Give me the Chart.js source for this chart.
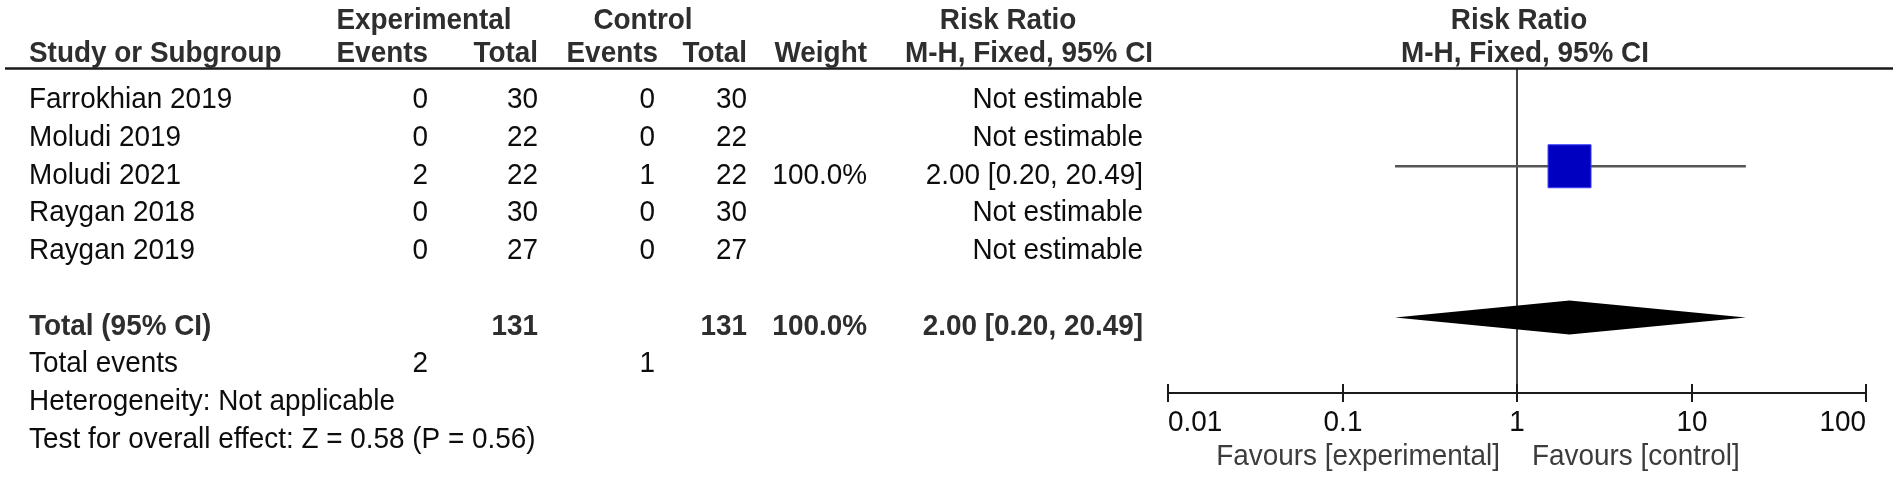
<!DOCTYPE html>
<html>
<head>
<meta charset="utf-8">
<title>Risk Ratio forest plot</title>
<script src="https://cdn.jsdelivr.net/npm/chart.js@4.4.1/dist/chart.umd.min.js"></script>
<style>
  html, body { margin: 0; padding: 0; background: #fff; }
  #wrap { width: 1900px; height: 482px; }
</style>
</head>
<body>
<div id="wrap"><canvas id="forest" width="1900" height="482"></canvas></div>
<script>
// ---- data ----
const studyNames = ['Farrokhian 2019', 'Moludi 2019', 'Moludi 2021', 'Raygan 2018', 'Raygan 2019'];
const expEvents  = [0, 0, 2, 0, 0];
const expTotals  = [30, 22, 22, 30, 27];
const ctrlEvents = [0, 0, 1, 0, 0];
const ctrlTotals = [30, 22, 22, 30, 27];
const weights    = [null, null, 100.0, null, null];
const riskRatios = [null, null, 2.00, null, null];
const ciLower    = [null, null, 0.20, null, null];
const ciUpper    = [null, null, 20.49, null, null];

const totalCounts  = [131, 131];      // experimental, control
const totalEvents  = [2, 1];          // experimental, control
const totalWeight  = [100.0];
const pooledRR     = [2.00];
const pooledCI     = [0.20, 20.49];
const overallZ     = [0.58];
const overallP     = [0.56];

const axisTicks  = [0.01, 0.1, 1, 10, 100];
const tickLabels = ['0.01', '0.1', '1', '10', '100'];
const favourLabels = ['Favours [experimental]', 'Favours [control]'];

// ---- layout ----
const Y_MIN = 0.4, Y_MAX = 9.0;       // row units, header line -> axis line
const TOTAL_ROW = 7;
const TEXT_DY = 9;                    // text sits slightly under the marks
const FONT = '"Liberation Sans", Arial, Helvetica, sans-serif';
const FS = 30, SX = 0.93;
const COL = { name: 29, expEv: 428, expTot: 538, ctlEv: 655, ctlTot: 747, weight: 867, rr: 1143 };

const f2 = v => v.toFixed(2);
const fw = v => v.toFixed(1) + '%';

function txt(ctx, s, x, y, align, bold, color) {
  ctx.save();
  ctx.font = (bold ? 'bold ' : '') + FS + 'px ' + FONT;
  ctx.fillStyle = color || '#0d0d0d';
  ctx.textAlign = align;
  ctx.textBaseline = 'middle';
  ctx.translate(x, y);
  ctx.scale(SX, 1);
  ctx.fillText(s, 0, 0);
  ctx.restore();
}

function seg(ctx, x1, y1, x2, y2) {
  ctx.beginPath(); ctx.moveTo(x1, y1); ctx.lineTo(x2, y2); ctx.stroke();
}

const forestTable = {
  id: 'forestTable',
  afterDatasetsDraw(chart) {
    const { ctx, chartArea, scales: { x, y } } = chart;
    const H = '#2e2e2e';

    // pooled diamond
    const dy = y.getPixelForValue(TOTAL_ROW);
    ctx.save();
    ctx.fillStyle = '#000';
    ctx.beginPath();
    ctx.moveTo(x.getPixelForValue(pooledCI[0]), dy);
    ctx.lineTo(x.getPixelForValue(pooledRR[0]), dy - 17);
    ctx.lineTo(x.getPixelForValue(pooledCI[1]), dy);
    ctx.lineTo(x.getPixelForValue(pooledRR[0]), dy + 17);
    ctx.closePath();
    ctx.fill();
    ctx.restore();

    // header underline
    ctx.save();
    ctx.strokeStyle = '#1a1a1a';
    ctx.lineWidth = 2.5;
    seg(ctx, 5, chartArea.top + 0.5, 1893, chartArea.top + 0.5);
    ctx.restore();

    // headers
    const h1 = chartArea.top - 47, h2 = chartArea.top - 14.5;
    txt(ctx, 'Experimental', 424, h1, 'center', true, H);
    txt(ctx, 'Control', 643, h1, 'center', true, H);
    txt(ctx, 'Risk Ratio', 1008, h1, 'center', true, H);
    txt(ctx, 'Risk Ratio', 1519, h1, 'center', true, H);
    txt(ctx, 'Study or Subgroup', COL.name, h2, 'left', true, H);
    txt(ctx, 'Events', COL.expEv, h2, 'right', true, H);
    txt(ctx, 'Total', COL.expTot, h2, 'right', true, H);
    txt(ctx, 'Events', COL.ctlEv + 3, h2, 'right', true, H);
    txt(ctx, 'Total', COL.ctlTot, h2, 'right', true, H);
    txt(ctx, 'Weight', COL.weight, h2, 'right', true, H);
    txt(ctx, 'M-H, Fixed, 95% CI', 905, h2, 'left', true, H);
    txt(ctx, 'M-H, Fixed, 95% CI', 1525, h2, 'center', true, H);

    // study rows
    studyNames.forEach((name, i) => {
      const py = y.getPixelForValue(i + 1) + TEXT_DY;
      txt(ctx, name, COL.name, py, 'left');
      txt(ctx, String(expEvents[i]), COL.expEv, py, 'right');
      txt(ctx, String(expTotals[i]), COL.expTot, py, 'right');
      txt(ctx, String(ctrlEvents[i]), COL.ctlEv, py, 'right');
      txt(ctx, String(ctrlTotals[i]), COL.ctlTot, py, 'right');
      if (weights[i] != null) txt(ctx, fw(weights[i]), COL.weight, py, 'right');
      const est = riskRatios[i] == null ? 'Not estimable'
        : f2(riskRatios[i]) + ' [' + f2(ciLower[i]) + ', ' + f2(ciUpper[i]) + ']';
      txt(ctx, est, COL.rr, py, 'right');
    });

    // total row
    const ty = y.getPixelForValue(TOTAL_ROW) + TEXT_DY;
    txt(ctx, 'Total (95% CI)', COL.name, ty, 'left', true, H);
    txt(ctx, String(totalCounts[0]), COL.expTot, ty, 'right', true, H);
    txt(ctx, String(totalCounts[1]), COL.ctlTot, ty, 'right', true, H);
    txt(ctx, fw(totalWeight[0]), COL.weight, ty, 'right', true, H);
    txt(ctx, f2(pooledRR[0]) + ' [' + f2(pooledCI[0]) + ', ' + f2(pooledCI[1]) + ']', COL.rr, ty, 'right', true, H);

    const ey = y.getPixelForValue(TOTAL_ROW + 1) + TEXT_DY;
    txt(ctx, 'Total events', COL.name, ey, 'left');
    txt(ctx, String(totalEvents[0]), COL.expEv, ey, 'right');
    txt(ctx, String(totalEvents[1]), COL.ctlEv, ey, 'right');
    txt(ctx, 'Heterogeneity: Not applicable', COL.name, y.getPixelForValue(TOTAL_ROW + 2) + TEXT_DY, 'left');
    txt(ctx, 'Test for overall effect: Z = ' + f2(overallZ[0]) + ' (P = ' + f2(overallP[0]) + ')',
        COL.name, y.getPixelForValue(TOTAL_ROW + 3) + TEXT_DY, 'left');

    // x axis
    const ay = chartArea.bottom;
    ctx.save();
    ctx.strokeStyle = '#1a1a1a';
    ctx.lineWidth = 2;
    seg(ctx, x.getPixelForValue(axisTicks[0]), ay, x.getPixelForValue(axisTicks[axisTicks.length - 1]), ay);
    axisTicks.forEach((t, i) => {
      const px = Math.round(x.getPixelForValue(t));
      seg(ctx, px, ay - 9, px, ay + 9);
      const align = i === 0 ? 'left' : i === axisTicks.length - 1 ? 'right' : 'center';
      txt(ctx, tickLabels[i], px, ay + 30, align);
    });
    ctx.restore();
    const one = x.getPixelForValue(1);
    txt(ctx, favourLabels[0], one - 17, ay + 63.5, 'right', false, '#3c3c3c');
    txt(ctx, favourLabels[1], one + 15, ay + 63.5, 'left', false, '#3c3c3c');
  }
};

// ---- datasets ----
const squares = [], ciLines = [];
riskRatios.forEach((rr, i) => {
  if (rr == null) return;
  squares.push({ x: rr, y: i + 1 });
  ciLines.push({
    type: 'line',
    data: [{ x: ciLower[i], y: i + 1 }, { x: ciUpper[i], y: i + 1 }],
    borderColor: '#555', borderWidth: 2.3, pointRadius: 0, order: 2
  });
});

new Chart(document.getElementById('forest'), {
  type: 'scatter',
  data: {
    datasets: [
      { data: squares, pointStyle: 'rect', pointRadius: 30.4, backgroundColor: '#0000c0',
        borderColor: '#3c3cff', borderWidth: 1, order: 1 },
      ...ciLines,
      { type: 'line', data: [{ x: 1, y: Y_MIN }, { x: 1, y: Y_MAX }],
        borderColor: '#444', borderWidth: 2, pointRadius: 0, order: 3 }
    ]
  },
  options: {
    responsive: false,
    animation: false,
    events: [],
    layout: { padding: { left: 1168, right: 34, top: 68, bottom: 89 } },
    plugins: { legend: { display: false }, tooltip: { enabled: false } },
    scales: {
      x: { type: 'logarithmic', min: axisTicks[0], max: axisTicks[axisTicks.length - 1], display: false },
      y: { type: 'linear', min: Y_MIN, max: Y_MAX, reverse: true, display: false }
    }
  },
  plugins: [forestTable]
});
</script>
</body>
</html>
